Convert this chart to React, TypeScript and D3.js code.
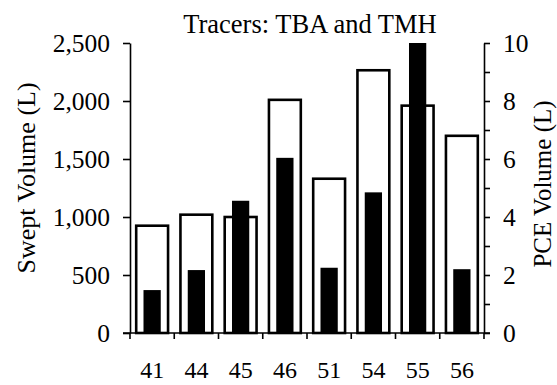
import { useEffect, useRef } from "react"
import * as d3 from "d3"

const wells = ["41", "44", "45", "46", "51", "54", "55", "56"]
const sweptVolume = [925, 1020, 1000, 2010, 1330, 2265, 1960, 1700]
const pceVolume = [1.48, 2.17, 4.56, 6.04, 2.25, 4.85, 10, 2.2]
const leftTicks = [0, 500, 1000, 1500, 2000, 2500]
const rightTicks = [0, 1, 2, 3, 4, 5, 6, 7, 8, 9, 10]

const W = 557
const H = 385
const FONT = "'Liberation Serif', 'Times New Roman', serif"

export default function App() {
    const svgRef = useRef<SVGSVGElement | null>(null)

    useEffect(() => {
        if (!svgRef.current) return
        const margin = { top: 43, right: 73, bottom: 52, left: 130 }
        const innerW = W - margin.left - margin.right
        const innerH = H - margin.top - margin.bottom

        const svg = d3.select(svgRef.current)
        svg.selectAll("*").remove()
        const g = svg.append("g").attr("transform", `translate(${margin.left},${margin.top})`)

        const x = d3.scaleBand().domain(wells).range([0, innerW]).padding(0)
        const yL = d3.scaleLinear().domain([0, 2500]).range([innerH, 0])
        const yR = d3.scaleLinear().domain([0, 10]).range([innerH, 0])

        const whiteW = x.bandwidth() * 0.72
        const blackW = x.bandwidth() * 0.39

        // swept volume (open bars)
        g.selectAll("rect.swept")
            .data(wells)
            .enter()
            .append("rect")
            .attr("class", "swept")
            .attr("x", (d) => x(d)! + (x.bandwidth() - whiteW) / 2)
            .attr("y", (d, i) => yL(sweptVolume[i]))
            .attr("width", whiteW)
            .attr("height", (d, i) => innerH - yL(sweptVolume[i]))
            .attr("fill", "#fff")
            .attr("stroke", "#000")
            .attr("stroke-width", 2.6)

        // PCE volume (solid bars)
        g.selectAll("rect.pce")
            .data(wells)
            .enter()
            .append("rect")
            .attr("class", "pce")
            .attr("x", (d) => x(d)! + (x.bandwidth() - blackW) / 2)
            .attr("y", (d, i) => yR(pceVolume[i]))
            .attr("width", blackW)
            .attr("height", (d, i) => innerH - yR(pceVolume[i]))
            .attr("fill", "#000")

        // left axis
        const leftAxis = g.append("g")
            .call(d3.axisLeft(yL).tickValues(leftTicks).tickFormat(d3.format(",") as any).tickSize(7).tickSizeOuter(0).tickPadding(13))
        // right axis
        const rightAxis = g.append("g")
            .attr("transform", `translate(${innerW},0)`)
            .call(d3.axisRight(yR).tickValues(rightTicks)
                .tickFormat((d: any) => (d % 2 === 0 ? String(d) : ""))
                .tickSize(6).tickSizeOuter(0).tickPadding(13))

        // x axis: line with ticks at band boundaries
        const xAxis = g.append("g").attr("transform", `translate(0,${innerH})`)
        xAxis.append("line")
            .attr("x1", -7).attr("x2", innerW + 6)
            .attr("stroke", "#000").attr("stroke-width", 1.6)
        const edges = wells.map((d) => x(d)!).concat([innerW])
        xAxis.selectAll("line.edge")
            .data(edges)
            .enter()
            .append("line")
            .attr("class", "edge")
            .attr("x1", (d) => d).attr("x2", (d) => d)
            .attr("y1", 0).attr("y2", 6)
            .attr("stroke", "#000").attr("stroke-width", 1.6)
        xAxis.selectAll("text")
            .data(wells)
            .enter()
            .append("text")
            .attr("x", (d) => x(d)! + x.bandwidth() / 2)
            .attr("y", 45)
            .attr("text-anchor", "middle")
            .text((d) => d)

        for (const ax of [leftAxis, rightAxis]) {
            ax.select(".domain").attr("stroke-width", 1.6)
            ax.selectAll(".tick line").attr("stroke-width", 1.6)
        }
        svg.selectAll("text")
            .attr("font-family", FONT)
            .attr("font-size", 24)
            .attr("fill", "#000")
        leftAxis.selectAll("text").attr("dy", "0.34em").attr("font-size", 25.5)
        rightAxis.selectAll("text").attr("dy", "0.34em").attr("font-size", 25.5)

        // titles
        svg.append("text")
            .attr("x", 310)
            .attr("y", 33)
            .attr("text-anchor", "middle")
            .attr("font-family", FONT)
            .attr("font-size", 26.5)
            .text("Tracers: TBA and TMH")

        svg.append("text")
            .attr("transform", "rotate(-90)")
            .attr("x", -178)
            .attr("y", 35)
            .attr("text-anchor", "middle")
            .attr("font-family", FONT)
            .attr("font-size", 26)
            .text("Swept Volume (L)")

        svg.append("text")
            .attr("transform", "rotate(-90)")
            .attr("x", -184)
            .attr("y", 551)
            .attr("text-anchor", "middle")
            .attr("font-family", FONT)
            .attr("font-size", 25)
            .text("PCE Volume (L)")
    }, [])

    return (
        <div style={{ position: "absolute", left: 0, top: 0, width: W, height: H, background: "#fff" }}>
            <svg ref={svgRef} width={W} height={H} />
        </div>
    )
}
